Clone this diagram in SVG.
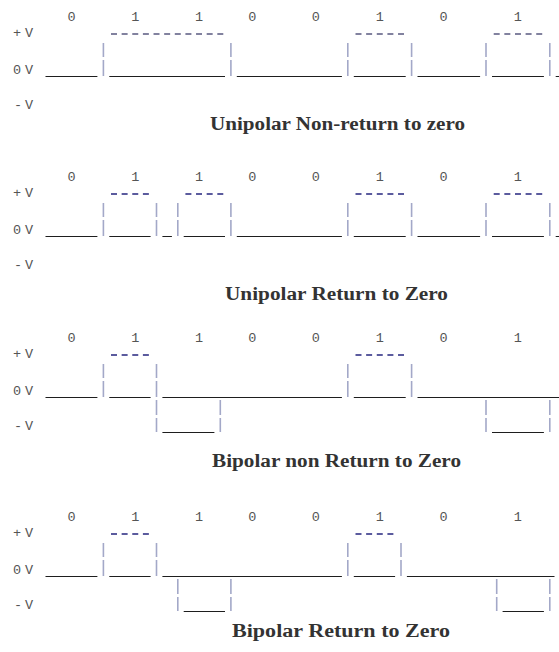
<svg xmlns="http://www.w3.org/2000/svg" width="559" height="652" viewBox="0 0 559 652">
<style>
.bg{fill:#fff}
.bit,.lab{font-family:"Liberation Mono","Courier New",monospace;font-size:13.5px;fill:#555;text-anchor:middle}
.title{font-family:"Liberation Serif","Times New Roman",serif;font-size:18px;font-weight:bold;fill:#333}
.low{fill:none;stroke:#1e1e1e;stroke-width:1.2}
.pipe{fill:none;stroke:#a3a8c8;stroke-width:1.6}
.hi{fill:none;stroke:#26267f;stroke-width:1.3;stroke-dasharray:6 4.63}
.hi1{stroke:#5a5a80}
</style>
<rect class="bg" width="559" height="652"/>

<g id="unipolar-nrz">
  <text class="bit" x="71.5 135.2 199 252.2 315.9 379.7 443.5 517.9" y="21">01100101</text>
  <text class="lab" x="17 29" y="37">+V</text>
  <text class="lab" x="17 29" y="74">0V</text>
  <text class="lab" x="18 29" y="109">-V</text>
  <path class="hi hi1" d="M111 34H225.6M355.5 34H406.3M493.7 34H544.5"/>
  <path class="pipe" d="M103.4 43V57M103.4 60V76M230.9 43V57M230.9 60V76M347.8 43V57M347.8 60V76M411.6 43V57M411.6 60V76M486 43V57M486 60V76M549.8 43V57M549.8 60V76"/>
  <path class="low" d="M45.5 76.5H97.4M109.3 76.5H225M236.8 76.5H341.9M353.8 76.5H405.7M417.5 76.5H480.1M492 76.5H543.9M555.7 76.5H559"/>
  <text class="title" x="210" y="130" textLength="255" lengthAdjust="spacingAndGlyphs">Unipolar Non-return to zero</text>
</g>

<g id="unipolar-rz" transform="translate(0,160)">
  <text class="bit" x="71.5 135.2 199 252.2 315.9 379.7 443.5 517.9" y="21">01100101</text>
  <text class="lab" x="17 29" y="37">+V</text>
  <text class="lab" x="17 29" y="74">0V</text>
  <text class="lab" x="18 29" y="109">-V</text>
  <path class="hi" d="M111 34H151.2M185.4 34H225.6M355.5 34H406.3M493.7 34H544.5"/>
  <path class="pipe" d="M103.4 43V57M103.4 60V76M156.5 43V57M156.5 60V76M177.8 43V57M177.8 60V76M230.9 43V57M230.9 60V76M347.8 43V57M347.8 60V76M411.6 43V57M411.6 60V76M486 43V57M486 60V76M549.8 43V57M549.8 60V76"/>
  <path class="low" d="M45.5 76.5H97.4M109.3 76.5H150.6M162.4 76.5H171.9M183.7 76.5H225M236.8 76.5H341.9M353.8 76.5H405.7M417.5 76.5H480.1M492 76.5H543.9M555.7 76.5H559"/>
  <text class="title" x="225" y="140" textLength="223" lengthAdjust="spacingAndGlyphs">Unipolar Return to Zero</text>
</g>

<g id="bipolar-nrz" transform="translate(0,321)">
  <text class="bit" x="71.5 135.2 199 252.2 315.9 379.7 443.5 517.9" y="21">01100101</text>
  <text class="lab" x="17 29" y="37">+V</text>
  <text class="lab" x="17 29" y="74">0V</text>
  <text class="lab" x="18 29" y="109">-V</text>
  <path class="hi" d="M111 34H151.2M355.5 34H406.3"/>
  <path class="pipe" d="M103.4 43V57M103.4 60V76M156.5 43V57M156.5 60V76M347.8 43V57M347.8 60V76M411.6 43V57M411.6 60V76M156.5 79V94M156.5 97V111M220.3 79V94M220.3 97V111M486 79V94M486 97V111M549.8 79V94M549.8 97V111"/>
  <path class="low" d="M45.5 76.5H97.4M109.3 76.5H150.6M162.4 76.5H341.9M353.8 76.5H405.7M417.5 76.5H559M162.4 111.5H214.4M492 111.5H543.9"/>
  <text class="title" x="212" y="146" textLength="249" lengthAdjust="spacingAndGlyphs">Bipolar non Return to Zero</text>
</g>

<g id="bipolar-rz" transform="translate(0,500)">
  <text class="bit" x="71.5 135.2 199 252.2 315.9 379.7 443.5 517.9" y="21">01100101</text>
  <text class="lab" x="17 29" y="37">+V</text>
  <text class="lab" x="17 29" y="74">0V</text>
  <text class="lab" x="18 29" y="109">-V</text>
  <path class="hi" d="M111 34H151.2M355.5 34H395.7"/>
  <path class="pipe" d="M103.4 43V57M103.4 60V76M156.5 43V57M156.5 60V76M347.8 43V57M347.8 60V76M401 43V57M401 60V76M177.8 79V94M177.8 97V111M230.9 79V94M230.9 97V111M496.7 79V94M496.7 97V111M549.8 79V94M549.8 97V111"/>
  <path class="low" d="M45.5 76.5H97.4M109.3 76.5H150.6M162.4 76.5H341.9M353.8 76.5H395.1M406.9 76.5H554.5M183.7 111.5H225M502.6 111.5H543.9"/>
  <text class="title" x="232" y="137" textLength="218" lengthAdjust="spacingAndGlyphs">Bipolar Return to Zero</text>
</g>
</svg>
